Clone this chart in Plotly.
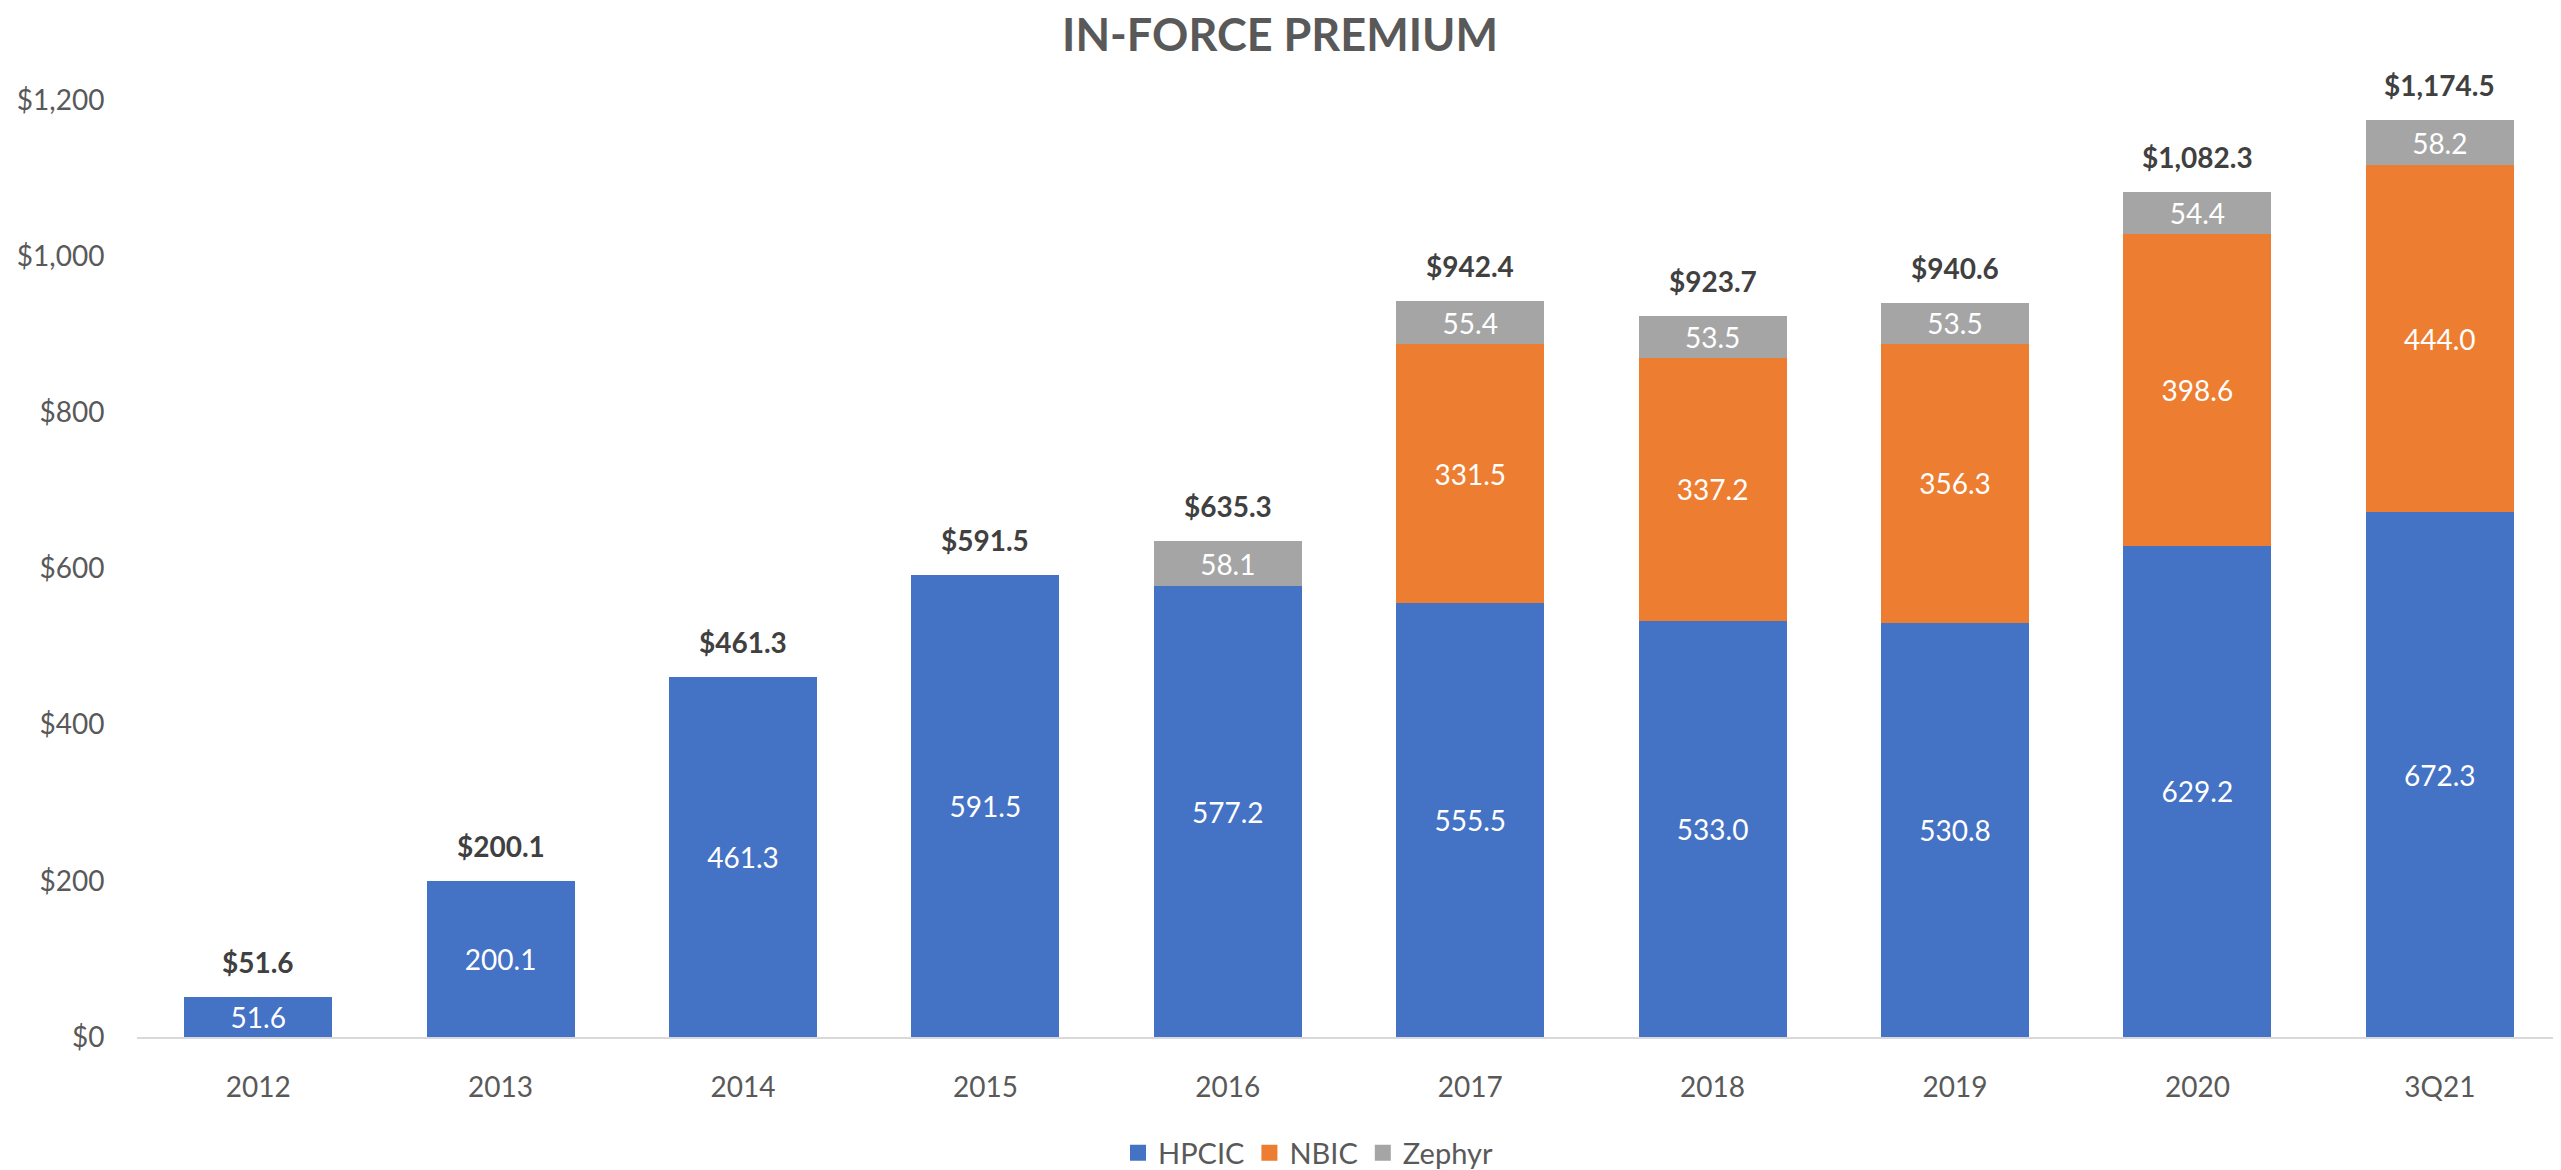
import plotly.graph_objects as go

categories = ["2012", "2013", "2014", "2015", "2016", "2017", "2018", "2019", "2020", "3Q21"]
hpcic = [51.6, 200.1, 461.3, 591.5, 577.2, 555.5, 533.0, 530.8, 629.2, 672.3]
nbic = [None, None, None, None, None, 331.5, 337.2, 356.3, 398.6, 444.0]
zephyr = [None, None, None, None, 58.1, 55.4, 53.5, 53.5, 54.4, 58.2]
totals = [51.6, 200.1, 461.3, 591.5, 635.3, 942.4, 923.7, 940.6, 1082.3, 1174.5]
y_ticks = [0, 200, 400, 600, 800, 1000, 1200]

FONT = "Lato"
series = [("HPCIC", hpcic, "#4472C4"), ("NBIC", nbic, "#ED7D31"), ("Zephyr", zephyr, "#A5A5A5")]

W, H = 2553, 1162  # page body has an 8px margin

fig = go.Figure()
for name, vals, color in series:
    fig.add_trace(go.Bar(
        x=categories, y=vals, name=name, marker=dict(color=color, line=dict(width=0)),
        text=[None if v is None else f"{v:.1f}" for v in vals],
        texttemplate="%{text}", textposition="inside", insidetextanchor="middle",
        textangle=0, constraintext="none", showlegend=False,
        textfont=dict(family=FONT, size=28, color="white"),
    ))
# legend entries with larger square swatches
for name, vals, color in series:
    fig.add_trace(go.Scatter(
        x=[None], y=[None], mode="markers", name=name,
        marker=dict(symbol="square", size=16, color=color), hoverinfo="skip",
    ))

for i, t in enumerate(totals):
    fig.add_annotation(x=i, y=t, xref="x", yref="y", text=f"<b>${t:,.1f}</b>", showarrow=False,
                       yanchor="bottom", yshift=16,
                       font=dict(family=FONT, size=28, color="#404040"))

fig.update_layout(
    width=W, height=H,
    barmode="stack", bargap=0.39,
    plot_bgcolor="white", paper_bgcolor="white",
    margin=dict(l=129, r=0, t=92, b=133, autoexpand=False),
    title=dict(text="<b>IN-FORCE PREMIUM</b>", x=1272 / W, xref="container", xanchor="center",
               y=1 - 27 / H, yref="container", yanchor="middle",
               font=dict(family=FONT, size=45, color="#595959")),
    legend=dict(orientation="h", x=1300 / W, xanchor="center", xref="container",
                y=1 - 1145 / H, yref="container", yanchor="middle", itemsizing="trace",
                font=dict(family=FONT, size=29, color="#595959"), traceorder="normal"),
    showlegend=True,
)
fig.update_xaxes(type="category", showline=True, linecolor="#D9D9D9", linewidth=2,
                 ticks="outside", ticklen=24, tickcolor="rgba(0,0,0,0)",
                 tickfont=dict(family=FONT, size=28, color="#595959"),
                 range=[-0.5, 9.5], showgrid=False)
fig.update_yaxes(range=[0, 1200], tickvals=y_ticks, ticktext=[f"${v:,}" for v in y_ticks],
                 showgrid=False, zeroline=False, showline=False,
                 ticks="outside", ticklen=26, tickcolor="rgba(0,0,0,0)",
                 tickfont=dict(family=FONT, size=28, color="#595959"))

fig.write_html("out.html")
